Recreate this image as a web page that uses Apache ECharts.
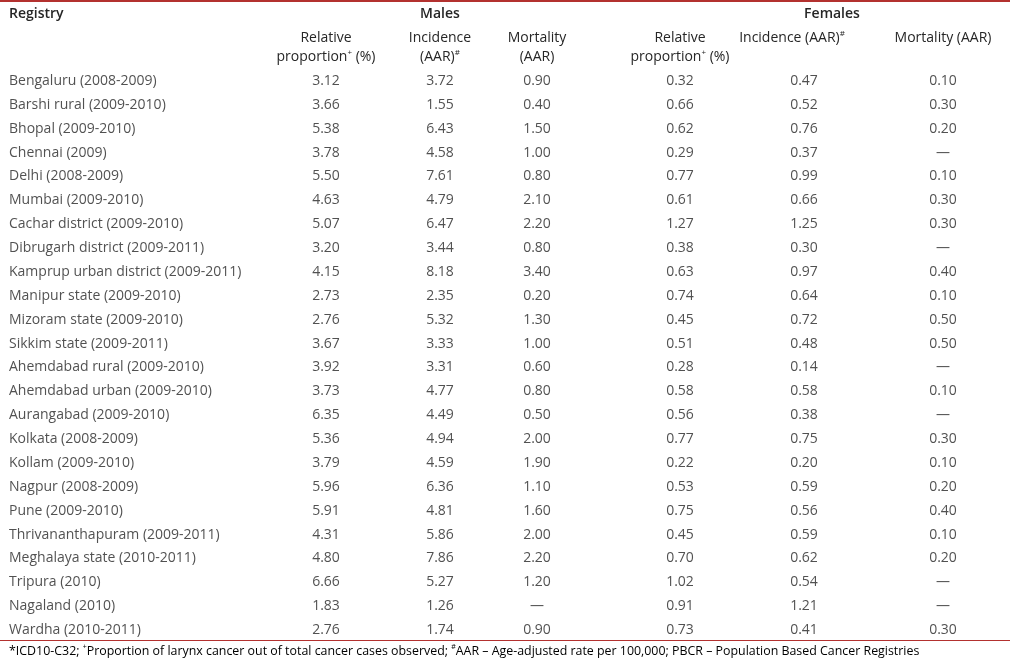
<!DOCTYPE html>
<html><head><meta charset="utf-8">
<script src="https://cdn.jsdelivr.net/npm/echarts@6/dist/echarts.min.js"></script>
<style>html,body{margin:0;padding:0;background:#fff}#c{width:1010px;height:659px}</style>
</head><body><div id="c"></div>
<script>
const registries = ["Bengaluru (2008-2009)","Barshi rural (2009-2010)","Bhopal (2009-2010)","Chennai (2009)","Delhi (2008-2009)","Mumbai (2009-2010)","Cachar district (2009-2010)","Dibrugarh district (2009-2011)","Kamprup urban district (2009-2011)","Manipur state (2009-2010)","Mizoram state (2009-2010)","Sikkim state (2009-2011)","Ahemdabad rural (2009-2010)","Ahemdabad urban (2009-2010)","Aurangabad (2009-2010)","Kolkata (2008-2009)","Kollam (2009-2010)","Nagpur (2008-2009)","Pune (2009-2010)","Thrivananthapuram (2009-2011)","Meghalaya state (2010-2011)","Tripura (2010)","Nagaland (2010)","Wardha (2010-2011)"];
const malesRelProp = [3.12,3.66,5.38,3.78,5.50,4.63,5.07,3.20,4.15,2.73,2.76,3.67,3.92,3.73,6.35,5.36,3.79,5.96,5.91,4.31,4.80,6.66,1.83,2.76];
const malesIncidence = [3.72,1.55,6.43,4.58,7.61,4.79,6.47,3.44,8.18,2.35,5.32,3.33,3.31,4.77,4.49,4.94,4.59,6.36,4.81,5.86,7.86,5.27,1.26,1.74];
const malesMortality = [0.90,0.40,1.50,1.00,0.80,2.10,2.20,0.80,3.40,0.20,1.30,1.00,0.60,0.80,0.50,2.00,1.90,1.10,1.60,2.00,2.20,1.20,null,0.90];
const femalesRelProp = [0.32,0.66,0.62,0.29,0.77,0.61,1.27,0.38,0.63,0.74,0.45,0.51,0.28,0.58,0.56,0.77,0.22,0.53,0.75,0.45,0.70,1.02,0.91,0.73];
const femalesIncidence = [0.47,0.52,0.76,0.37,0.99,0.66,1.25,0.30,0.97,0.64,0.72,0.48,0.14,0.58,0.38,0.75,0.20,0.59,0.56,0.59,0.62,0.54,1.21,0.41];
const femalesMortality = [0.10,0.30,0.20,null,0.10,0.30,0.30,null,0.40,0.10,0.50,0.50,null,0.10,null,0.30,0.10,0.20,0.40,0.10,0.20,null,null,0.30];

// layout (column centres in pixel units of the x value axis)
const colX = [326, 440, 537, 680, 804, 943];
const regX = 9;
const FONT = "'Open Sans', 'Noto Sans', sans-serif";
const TXT = '#262626';
const RED = '#b3312f';
const FS = 14;

const cols = [malesRelProp, malesIncidence, malesMortality, femalesRelProp, femalesIncidence, femalesMortality];
const series = [];
series.push({
  type: 'scatter', symbolSize: 0, silent: true,
  data: registries.map(r => [regX, r]),
  label: { show: true, position: 'inside', align: 'left', fontFamily: FONT, fontSize: FS, color: TXT,
    formatter: p => p.value[1] }
});
cols.forEach((arr, ci) => {
  series.push({
    type: 'scatter', symbolSize: 0, silent: true,
    data: arr.map((v, i) => ({ value: [colX[ci], registries[i]], txt: v == null ? '—' : v.toFixed(2) })),
    label: { show: true, position: 'inside', align: 'center', fontFamily: FONT, fontSize: FS, color: TXT,
      formatter: p => p.data.txt }
  });
});

const sup = { fontSize: 8, fontFamily: FONT, color: TXT, verticalAlign: 'top', lineHeight: 8 };
const base = { fontSize: FS, fontFamily: FONT, color: TXT, lineHeight: 17 };
function hdr(x, y, text, opts) {
  return { type: 'text', x: x, y: y, style: Object.assign({ text: text, font: FS + 'px ' + FONT, fill: TXT, align: 'center', verticalAlign: 'middle', rich: { s: sup, n: base } }, opts || {}) };
}
const chart = echarts.init(document.getElementById('c'), null, { renderer: 'canvas' });
chart.setOption({
  animation: false,
  grid: { left: 0, right: 0, top: 81, height: 549 },
  xAxis: { type: 'value', min: 0, max: 1010, show: false },
  yAxis: { type: 'category', data: registries, inverse: true, boundaryGap: false, show: false },
  series: series,
  graphic: [
    { type: 'rect', shape: { x: 0, y: 0, width: 1010, height: 2 }, style: { fill: RED } },
    { type: 'rect', shape: { x: 0, y: 640, width: 1010, height: 1 }, style: { fill: RED } },
    hdr(regX, 14, 'Registry', { align: 'left', font: '600 ' + FS + 'px ' + FONT }),
    hdr(440, 14, 'Males', { font: '600 ' + FS + 'px ' + FONT }),
    hdr(832, 14, 'Females', { font: '600 ' + FS + 'px ' + FONT }),
    hdr(326, 38, 'Relative'),
    hdr(326, 57, '{n|proportion}{s|+}{n| (%)}'),
    hdr(440, 38, 'Incidence'),
    hdr(440, 57, '{n|(AAR)}{s|#}'),
    hdr(537, 38, 'Mortality'),
    hdr(537, 57, '(AAR)'),
    hdr(680, 38, 'Relative'),
    hdr(680, 57, '{n|proportion}{s|+}{n| (%)}'),
    hdr(792, 38, '{n|Incidence (AAR)}{s|#}'),
    hdr(943, 38, 'Mortality (AAR)'),
    { type: 'text', x: 9, y: 651, style: {
      text: '{n|*ICD10-C32; }{s|+}{n|Proportion of larynx cancer out of total cancer cases observed; }{s|#}{n|AAR – Age-adjusted rate per 100,000; PBCR – Population Based Cancer Registries}',
      align: 'left', verticalAlign: 'middle',
      rich: { n: { fontSize: 12.4, fontFamily: FONT, color: TXT, lineHeight: 15 }, s: { fontSize: 7, fontFamily: FONT, color: TXT, verticalAlign: 'top', lineHeight: 7 } }
    } }
  ]
});
</script></body></html>
